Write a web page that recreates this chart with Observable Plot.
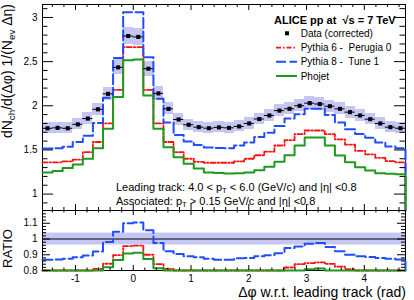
<!DOCTYPE html>
<html><head><meta charset="utf-8">
<script src="https://cdn.jsdelivr.net/npm/d3@7"></script>
<script src="https://cdn.jsdelivr.net/npm/@observablehq/plot@0.6"></script>
<style>
body{margin:0;background:#fff;}
#chart{position:relative;width:414px;height:300px;font-family:"Liberation Sans",Arial,sans-serif;}
#chart svg{position:absolute;left:0;overflow:visible;}
</style></head><body><div id="chart"></div>
<script>
// 36 bins in delta-phi from -pi/2 to 3pi/2
const dataVals = [1.745,1.75,1.745,1.79,1.855,1.96,2.135,2.435,2.79,2.78,2.42,2.14,1.965,1.845,1.785,1.758,1.746,1.755,
                  1.75,1.766,1.80,1.85,1.89,1.945,1.966,2.00,2.03,2.02,1.995,1.965,1.928,1.89,1.848,1.80,1.758,1.746];
const pythia6 = [1.36,1.36,1.37,1.39,1.475,1.59,1.80,2.18,2.665,2.665,2.18,1.80,1.59,1.475,1.40,1.365,1.355,1.355,
                 1.355,1.37,1.40,1.44,1.48,1.55,1.61,1.68,1.72,1.72,1.68,1.62,1.56,1.49,1.45,1.41,1.373,1.36];
const pythia8 = [1.515,1.52,1.535,1.59,1.66,1.805,2.09,2.54,3.06,3.06,2.55,2.08,1.81,1.67,1.595,1.555,1.528,1.522,
                 1.52,1.55,1.585,1.645,1.695,1.77,1.855,1.905,1.965,1.965,1.895,1.812,1.735,1.68,1.637,1.585,1.538,1.52];
const phojet  = [1.245,1.262,1.295,1.335,1.40,1.52,1.74,2.10,2.515,2.525,2.115,1.74,1.53,1.418,1.343,1.29,1.245,1.24,
                 1.232,1.235,1.245,1.27,1.31,1.365,1.44,1.55,1.64,1.64,1.55,1.437,1.361,1.305,1.267,1.237,1.23,1.225];
const ratioPythia6 = [0.78,0.777,0.785,0.777,0.795,0.81,0.843,0.897,0.955,0.958,0.90,0.841,0.81,0.80,0.784,0.776,0.776,0.772,
                      0.774,0.776,0.778,0.778,0.783,0.797,0.819,0.84,0.847,0.851,0.842,0.824,0.809,0.788,0.785,0.783,0.781,0.779];
const ratioPythia8 = [0.869,0.87,0.875,0.884,0.896,0.92,0.981,1.046,1.10,1.105,1.055,0.975,0.922,0.905,0.89,0.884,0.875,0.869,
                      0.869,0.878,0.88,0.89,0.897,0.91,0.943,0.953,0.97,0.975,0.95,0.922,0.90,0.89,0.886,0.88,0.875,0.87];
const ratioPhojet  = [0.713,0.721,0.742,0.746,0.755,0.776,0.82,0.866,0.908,0.912,0.873,0.815,0.779,0.769,0.752,0.732,0.712,0.702,
                      0.704,0.698,0.692,0.686,0.69,0.70,0.73,0.775,0.808,0.812,0.777,0.731,0.706,0.69,0.686,0.687,0.70,0.702];
const sysRel = 0.035;     // relative systematic uncertainty (band)
const ratioSys = 0.038;   // band in ratio panel
const xTicks = [-1,0,1,2,3,4];
const xTickLabels = ["-1","0","1","2","3","4"];
const yTicksTop = [1,1.5,2,2.5,3];
const yTickLabelsTop = ["1","1.5","2","2.5","3"];
const yTicksRatio = [0.8,0.9,1,1.1];
const yTickLabelsRatio = ["0.8","0.9","1","1.1"];
const legendLabels = ["Data (corrected)","Pythia 6 -  Perugia 0","Pythia 8 -  Tune 1","Phojet"];

const colRed = "#ff1010", colBlue = "#1f4dff", colGreen = "#1e9a1e", colBand = "#c6c6f4";
const dashRed = "5,2,1.5,2", dashBlue = "10,3.5";
const FONT = '"Liberation Sans",Arial,Helvetica,sans-serif';

const nBins = dataVals.length, phiMin = -Math.PI/2, phiMax = 3*Math.PI/2, bw = (phiMax-phiMin)/nBins;
const bins = dataVals.map((v,i)=>({lo: phiMin+i*bw, hi: phiMin+(i+1)*bw, mid: phiMin+(i+0.5)*bw, v}));
function stepPts(vals){
  const pts=[];
  vals.forEach((v,i)=>{pts.push({x:phiMin+i*bw,y:v});pts.push({x:phiMin+(i+1)*bw,y:v});});
  pts.push({x:phiMax,y:0});
  return pts;
}
const W=414, ML=42, MR=9, PW=W-ML-MR;
const xMinor = d3.range(-7,24).filter(k=>k%5!==0).map(k=>k*0.2);
const yMinorTop = d3.range(9,32).filter(k=>k%5!==0).map(k=>k/10);
const yMinorRatio = d3.range(41,60).filter(k=>k%5!==0).map(k=>k*0.02);

function frameTicks(PH, xMaj, xMin, xLenMaj, xLenMin, yMaj, yMin, yLenMaj, yLenMin){
  const s={stroke:"black",strokeWidth:1};
  return [
    Plot.tickX(xMaj,{x:d=>d,insetBottom:PH-xLenMaj,...s}),
    Plot.tickX(xMin,{x:d=>d,insetBottom:PH-xLenMin,...s}),
    Plot.tickX(xMaj,{x:d=>d,insetTop:PH-xLenMaj,...s}),
    Plot.tickX(xMin,{x:d=>d,insetTop:PH-xLenMin,...s}),
    Plot.tickY(yMaj,{y:d=>d,insetRight:PW-yLenMaj,...s}),
    Plot.tickY(yMin,{y:d=>d,insetRight:PW-yLenMin,...s}),
    Plot.tickY(yMaj,{y:d=>d,insetLeft:PW-yLenMaj,...s}),
    Plot.tickY(yMin,{y:d=>d,insetLeft:PW-yLenMin,...s})
  ];
}
const lineOpts = {x:"x",y:"y",curve:"linear"};

// ---------- top panel ----------
const topH=211, topPH=topH-4-1;
const topSvg = Plot.plot({
  width:W, height:topH, marginLeft:ML, marginRight:MR, marginTop:4, marginBottom:1,
  style:{background:"transparent",fontFamily:FONT,color:"black"},
  x:{domain:[phiMin,phiMax],axis:null},
  y:{domain:[0.814,3.147],axis:null,clamp:true},
  marks:[
    Plot.rect(bins,{x1:"lo",x2:"hi",y1:d=>d.v*(1-sysRel),y2:d=>d.v*(1+sysRel),fill:colBand,shapeRendering:"crispEdges"}),
    Plot.frame({stroke:"black"}),
    Plot.line(stepPts(pythia6),{...lineOpts,stroke:colRed,strokeWidth:1.8,strokeDasharray:dashRed}),
    Plot.line(stepPts(pythia8),{...lineOpts,stroke:colBlue,strokeWidth:2,strokeDasharray:dashBlue}),
    Plot.line(stepPts(phojet),{...lineOpts,stroke:colGreen,strokeWidth:2}),
    Plot.ruleY(bins,{y:"v",x1:"lo",x2:"hi",stroke:"black",strokeWidth:1}),
    Plot.dot(bins,{x:"mid",y:"v",symbol:"square",r:2.3,fill:"black",stroke:null}),
    ...frameTicks(topPH, xTicks, xMinor, 6, 3, yTicksTop, yMinorTop, 11, 5.5),
    Plot.text(yTicksTop,{y:d=>d,text:(d,i)=>yTickLabelsTop[i],frameAnchor:"left",textAnchor:"end",dx:-5,fontSize:10,fill:"black"})
  ]
});
topSvg.style.top="0px";

// ---------- ratio panel ----------
const rH=90, rPH=60;
const ratioSvg = Plot.plot({
  width:W, height:rH, marginLeft:ML, marginRight:MR, marginTop:0, marginBottom:30,
  style:{background:"transparent",fontFamily:FONT,color:"black"},
  x:{domain:[phiMin,phiMax],axis:null},
  y:{domain:[0.8,1.181],axis:null,clamp:true},
  marks:[
    Plot.rect([0],{x1:()=>phiMin,x2:()=>phiMax,y1:()=>1-ratioSys,y2:()=>1+ratioSys,fill:colBand}),
    Plot.ruleY([1],{stroke:"black",strokeWidth:1.2}),
    Plot.frame({stroke:"black"}),
    Plot.line(stepPts(ratioPythia6),{...lineOpts,stroke:colRed,strokeWidth:1.8,strokeDasharray:dashRed}),
    Plot.line(stepPts(ratioPythia8),{...lineOpts,stroke:colBlue,strokeWidth:2,strokeDasharray:dashBlue}),
    Plot.line(stepPts(ratioPhojet),{...lineOpts,stroke:colGreen,strokeWidth:2}),
    ...frameTicks(rPH, xTicks, xMinor, 5, 2.5, yTicksRatio, yMinorRatio, 8, 4),
    Plot.text(yTicksRatio,{y:d=>d,text:(d,i)=>yTickLabelsRatio[i],frameAnchor:"left",textAnchor:"end",dx:-5,fontSize:10,fill:"black"}),
    Plot.text(xTicks,{x:d=>d,text:(d,i)=>xTickLabels[i],frameAnchor:"bottom",lineAnchor:"middle",dy:8,fontSize:10,fill:"black"})
  ]
});
ratioSvg.style.top="210px";

const chart=document.getElementById("chart");
chart.appendChild(topSvg);
chart.appendChild(ratioSvg);

// ---------- text helpers ----------
function addText(svg, parts, {x=0,y=0,size=11,anchor="start",weight="normal",transform=null}={}){
  const t=d3.select(svg).append("text").attr("font-family",FONT).attr("font-size",size)
    .attr("font-weight",weight).attr("text-anchor",anchor).attr("fill","black");
  if(transform) t.attr("transform",transform); else t.attr("x",x).attr("y",y);
  const sh=size*0.25;
  let pending=0;
  parts.forEach(p=>{
    if(typeof p==="string"){ const ts=t.append("tspan").text(p); if(pending){ts.attr("dy",-pending);pending=0;} }
    else { t.append("tspan").attr("font-size",size*0.7).attr("dy",sh).text(p.sub); pending=sh; }
  });
  return t;
}

// y title (top)
addText(topSvg,["dN",{sub:"ch"},"/d(\u0394\u03C6) 1/(N",{sub:"ev"}," \u0394\u03B7)"],
  {size:14,anchor:"end",transform:"translate(11.5,4) rotate(-90)"});
// annotation
addText(topSvg,["Leading track: 4.0 < p",{sub:"T"}," < 6.0 (GeV/c) and |\u03B7| <0.8"],{x:116,y:190.5,size:11});
addText(topSvg,["Associated: p",{sub:"T"}," > 0.15 GeV/c and |\u03B7| <0.8"],{x:116,y:204.5,size:11});
// legend
addText(topSvg,["ALICE pp at  \u221As = 7 TeV"],{x:274,y:24,size:11,weight:"bold"});
const lg=d3.select(topSvg);
lg.append("rect").attr("x",285).attr("y",31.3).attr("width",4).attr("height",4).attr("fill","black");
const legY=[33.3,47.7,61.7,76];
const legStyles=[null,{c:colRed,d:dashRed,w:1.8},{c:colBlue,d:dashBlue,w:2},{c:colGreen,d:null,w:2}];
legStyles.forEach((s,i)=>{
  if(s){ const l=lg.append("line").attr("x1",276).attr("x2",297).attr("y1",legY[i]).attr("y2",legY[i])
      .attr("stroke",s.c).attr("stroke-width",s.w); if(s.d) l.attr("stroke-dasharray",s.d); }
  addText(topSvg,[legendLabels[i]],{x:300.7,y:legY[i]+3.6,size:10});
});
// ratio titles
addText(ratioSvg,["RATIO"],{size:13,anchor:"middle",transform:"translate(11.5,38.5) rotate(-90)"});
addText(ratioSvg,["\u0394\u03C6 w.r.t. leading track (rad)"],{x:406,y:87,size:14,anchor:"end"});
</script></body></html>
